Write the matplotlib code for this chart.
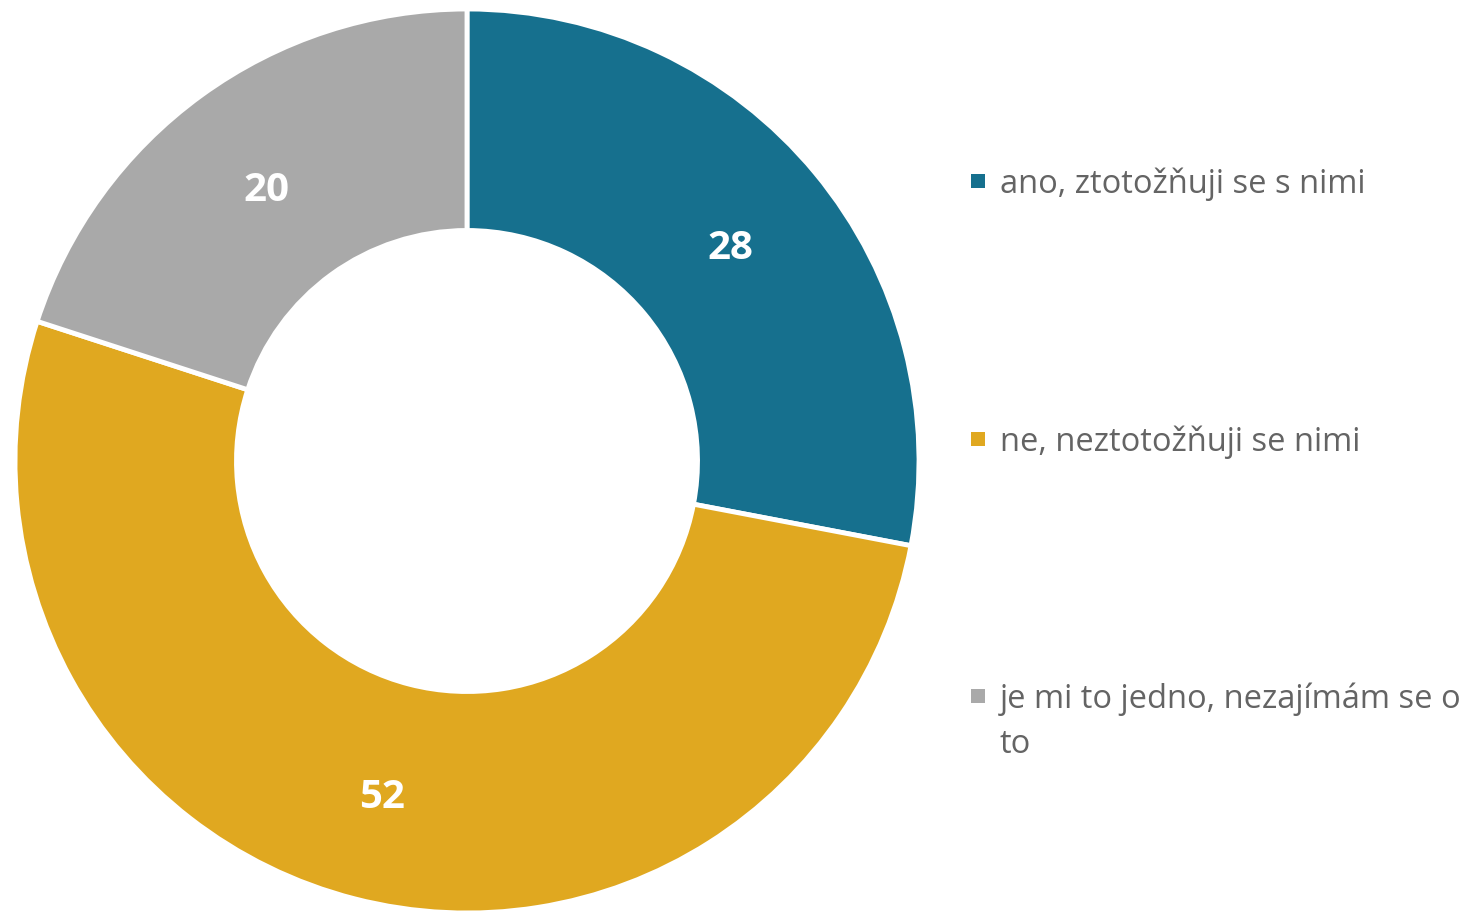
import textwrap
import numpy as np
import matplotlib.pyplot as plt
from matplotlib.patches import Rectangle

# data
labels = ["ano, ztotožňuji se s nimi", "ne, neztotožňuji se nimi", "je mi to jedno, nezajímám se o to"]
values = [28, 52, 20]
colors = ["#16708E", "#E0A820", "#A9A9A9"]

plt.rcParams['font.family'] = ['Open Sans', 'DejaVu Sans']

W, H = 1468, 912
fig = plt.figure(figsize=(W / 100, H / 100), dpi=100)

# donut centred at (467, 462) px, outer radius ~452 px
cx, cy, r = 467, 462, 452
ax = fig.add_axes([(cx - r) / W, (H - cy - r) / H, 2 * r / W, 2 * r / H])
wedges, _ = ax.pie(values, colors=colors, startangle=90, counterclock=False, radius=1,
                   wedgeprops=dict(width=0.49, edgecolor="white", linewidth=3.5))
ax.set_xlim(-1, 1)
ax.set_ylim(-1, 1)
ax.set_aspect("equal")
ax.axis("off")

# value labels in the middle of the ring
lab_r = 1 - 0.49 / 2
for w, v in zip(wedges, values):
    ang = np.deg2rad((w.theta1 + w.theta2) / 2)
    ax.text(lab_r * np.cos(ang), lab_r * np.sin(ang), str(v), ha="center", va="center_baseline",
            color="white", fontsize=29, fontweight="bold")

# legend, drawn by hand
leg_y = [193, 451, 708]   # baselines of first lines, px from top
for lab, col, y in zip(labels, colors, leg_y):
    lines = textwrap.wrap(lab, 30)
    for i, ln in enumerate(lines):
        fig.text(1000 / W, 1 - (y + 45 * i) / H, ln, ha="left", va="baseline", fontsize=23.5,
                 color="#646464")
    fig.patches.append(Rectangle((971 / W, 1 - (y - 4) / H), 14 / W, 14 / H,
                                 transform=fig.transFigure, facecolor=col, edgecolor="none"))

fig.savefig("out.png", dpi=100)
